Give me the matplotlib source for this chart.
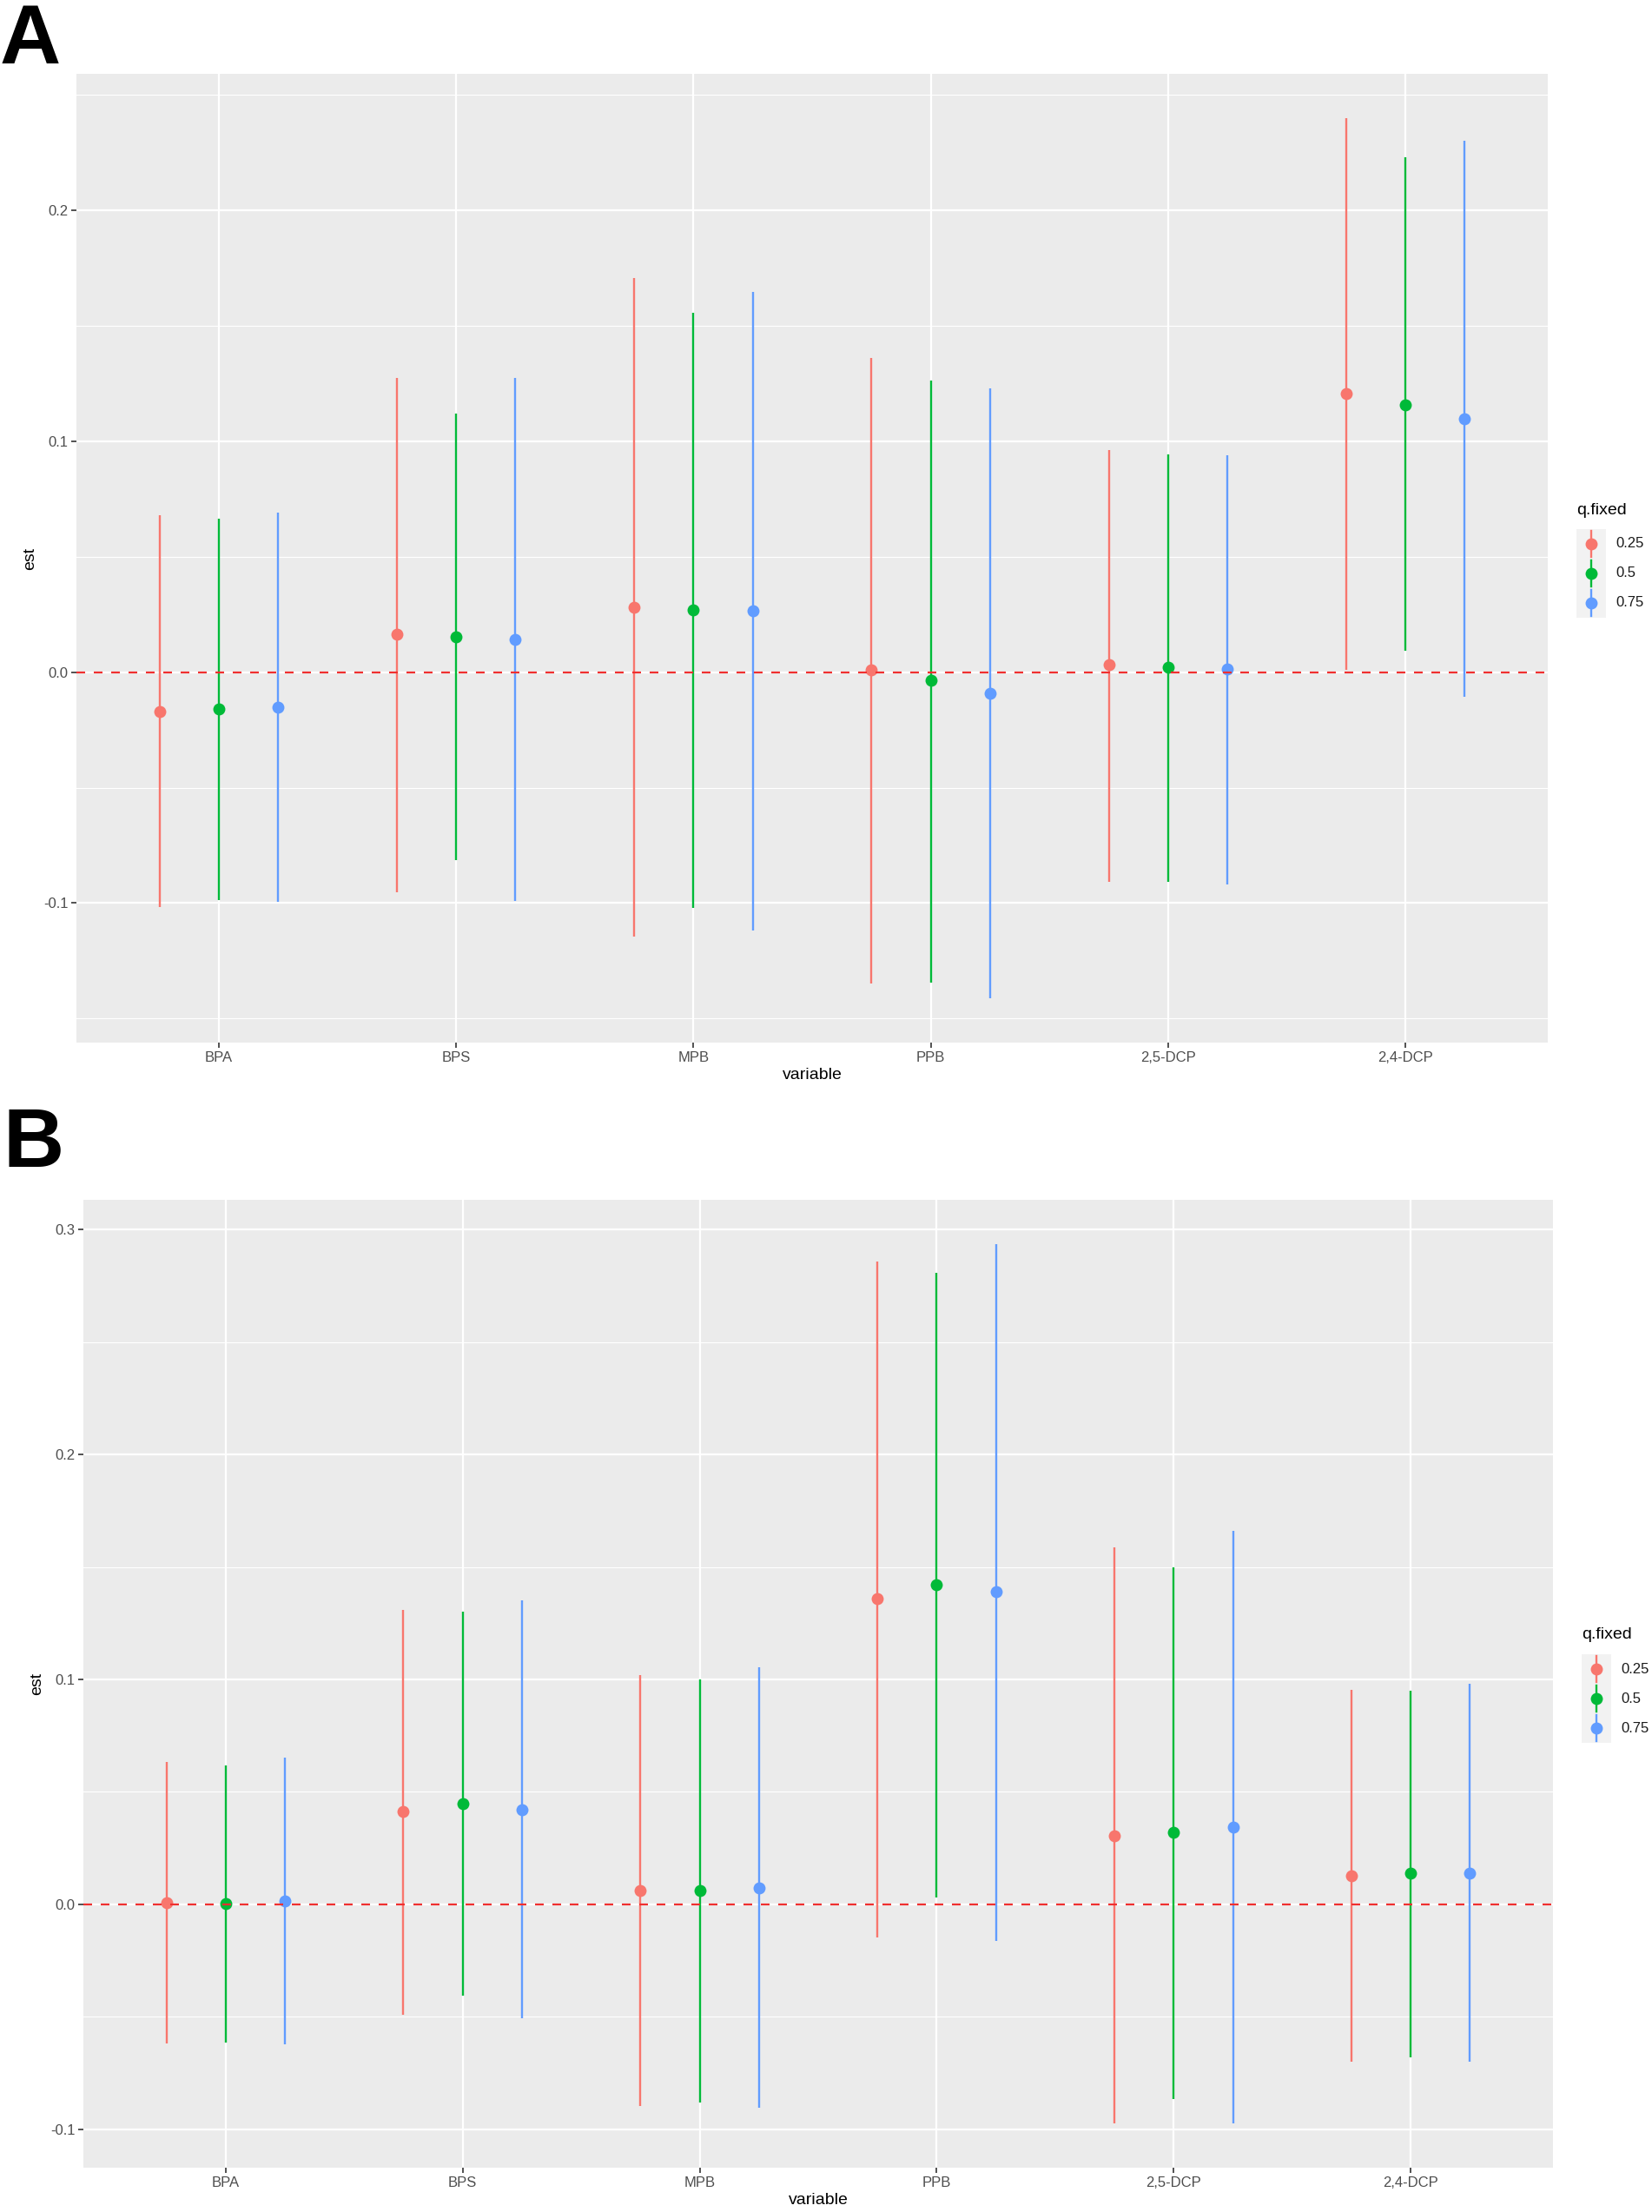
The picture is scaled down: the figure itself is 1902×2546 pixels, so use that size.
import matplotlib
matplotlib.use("Agg")
import matplotlib.pyplot as plt
from matplotlib.lines import Line2D
from matplotlib.patches import Rectangle
from matplotlib.ticker import FixedLocator, FuncFormatter

plt.rcParams['font.family'] = ['Liberation Sans', 'DejaVu Sans']

variables = ['BPA', 'BPS', 'MPB', 'PPB', '2,5-DCP', '2,4-DCP']
q_levels = ['0.25', '0.5', '0.75']
q_colors = ['#F8766D', '#00BA38', '#619CFF']

# panel A: rows are q.fixed = 0.25, 0.5, 0.75
a_est = [[-0.0169, 0.0163, 0.0280, 0.0009, 0.0031, 0.1204],
         [-0.0160, 0.0154, 0.0270, -0.0037, 0.0022, 0.1158],
         [-0.0151, 0.0141, 0.0264, -0.0092, 0.0012, 0.1097]]
a_lo = [[-0.1017, -0.0952, -0.1146, -0.1349, -0.0909, 0.0009],
        [-0.0986, -0.0814, -0.1020, -0.1343, -0.0906, 0.0092],
        [-0.0995, -0.0992, -0.1118, -0.1413, -0.0919, -0.0108]]
a_hi = [[0.0679, 0.1275, 0.1705, 0.1358, 0.0962, 0.2399],
        [0.0664, 0.1121, 0.1555, 0.1263, 0.0943, 0.2230],
        [0.0691, 0.1275, 0.1647, 0.1229, 0.0937, 0.2301]]

# panel B
b_est = [[0.0006, 0.0412, 0.0062, 0.1359, 0.0306, 0.0128],
         [0.0003, 0.0449, 0.0062, 0.1422, 0.0318, 0.0137],
         [0.0016, 0.0421, 0.0072, 0.1390, 0.0343, 0.0140]]
b_lo = [[-0.0620, -0.0493, -0.0898, -0.0147, -0.0976, -0.0701],
        [-0.0614, -0.0408, -0.0882, 0.0031, -0.0867, -0.0680],
        [-0.0624, -0.0508, -0.0904, -0.0162, -0.0976, -0.0701]]
b_hi = [[0.0633, 0.1310, 0.1019, 0.2859, 0.1587, 0.0954],
        [0.0617, 0.1303, 0.1000, 0.2809, 0.1497, 0.0948],
        [0.0652, 0.1353, 0.1054, 0.2937, 0.1659, 0.0979]]

W, H = 1902, 2546
fig = plt.figure(figsize=(W / 100, H / 100), dpi=100)


def px(x, y):
    return x / W, 1 - y / H


def panel(rect, est, lo, hi, major, minor):
    left, top, right, bottom = rect
    ax = fig.add_axes([left / W, 1 - bottom / H, (right - left) / W, (bottom - top) / H])
    ax.set_facecolor('#EBEBEB')
    for s in ax.spines.values():
        s.set_visible(False)

    xs = list(range(1, len(variables) + 1))
    offsets = [-0.25, 0.0, 0.25]
    for i in range(len(q_levels)):
        xp = [x + offsets[i] for x in xs]
        ax.vlines(xp, lo[i], hi[i], color=q_colors[i], lw=1.7, zorder=3)
        ax.plot(xp, est[i], 'o', color=q_colors[i], ms=10, mec='none', zorder=4)

    ax.axhline(0, color='#F03030', lw=1.6, ls=(0, (4.5, 4.5)), zorder=5)

    vmin = min(min(r) for r in lo)
    vmax = max(max(r) for r in hi)
    pad = (vmax - vmin) * 0.05
    ax.set_ylim(vmin - pad, vmax + pad)
    ax.set_xlim(0.4, len(variables) + 0.6)

    ax.set_xticks(xs)
    ax.set_xticklabels(variables)
    ax.yaxis.set_major_locator(FixedLocator(major))
    ax.yaxis.set_minor_locator(FixedLocator(minor))
    ax.yaxis.set_major_formatter(FuncFormatter(lambda v, p: f'{v:.1f}'))
    ax.grid(which='major', color='white', lw=1.6)
    ax.grid(which='minor', axis='y', color='white', lw=0.8)
    ax.set_axisbelow(True)
    ax.tick_params(which='major', length=4, width=1.2, color='#333333',
                   labelsize=12, labelcolor='#4D4D4D', pad=3)
    ax.tick_params(which='minor', length=0)
    ax.set_xlabel('variable', fontsize=14, color='black', labelpad=3)
    ax.set_ylabel('est', fontsize=14, color='black', labelpad=5)
    return ax


def legend(x0, y0):
    fig.text(*px(x0, y0), 'q.fixed', fontsize=14, va='center', ha='left')
    fig.add_artist(Rectangle(px(x0, y0 + 22 + 34 * 3), 34 / W, 34 * 3 / H,
                             transform=fig.transFigure, color='#F2F2F2', lw=0))
    for i, lab in enumerate(q_levels):
        cy = y0 + 22 + 17 + 34 * i
        cx = x0 + 17
        fig.add_artist(Line2D([cx / W, cx / W], [1 - (cy - 15) / H, 1 - (cy + 15) / H],
                              transform=fig.transFigure, color=q_colors[i], lw=1.7))
        fig.add_artist(Line2D([cx / W], [1 - cy / H], transform=fig.transFigure,
                              marker='o', ms=10, mec='none', color=q_colors[i]))
        fig.text(*px(x0 + 45, cy), lab, fontsize=12, va='center', ha='left', color='#1A1A1A')


panel((88, 85, 1782, 1200), a_est, a_lo, a_hi,
      [-0.1, 0.0, 0.1, 0.2], [-0.15, -0.05, 0.05, 0.15, 0.25])
panel((96, 1381, 1788, 2495), b_est, b_lo, b_hi,
      [-0.1, 0.0, 0.1, 0.2, 0.3], [-0.05, 0.05, 0.15, 0.25])

legend(1815, 587)
legend(1821, 1882)

fig.text(*px(0, 73), 'A', fontsize=70, fontweight='bold', va='baseline', ha='left')
fig.text(*px(4, 1343), 'B', fontsize=70, fontweight='bold', va='baseline', ha='left')

fig.savefig('out.png', dpi=100)
